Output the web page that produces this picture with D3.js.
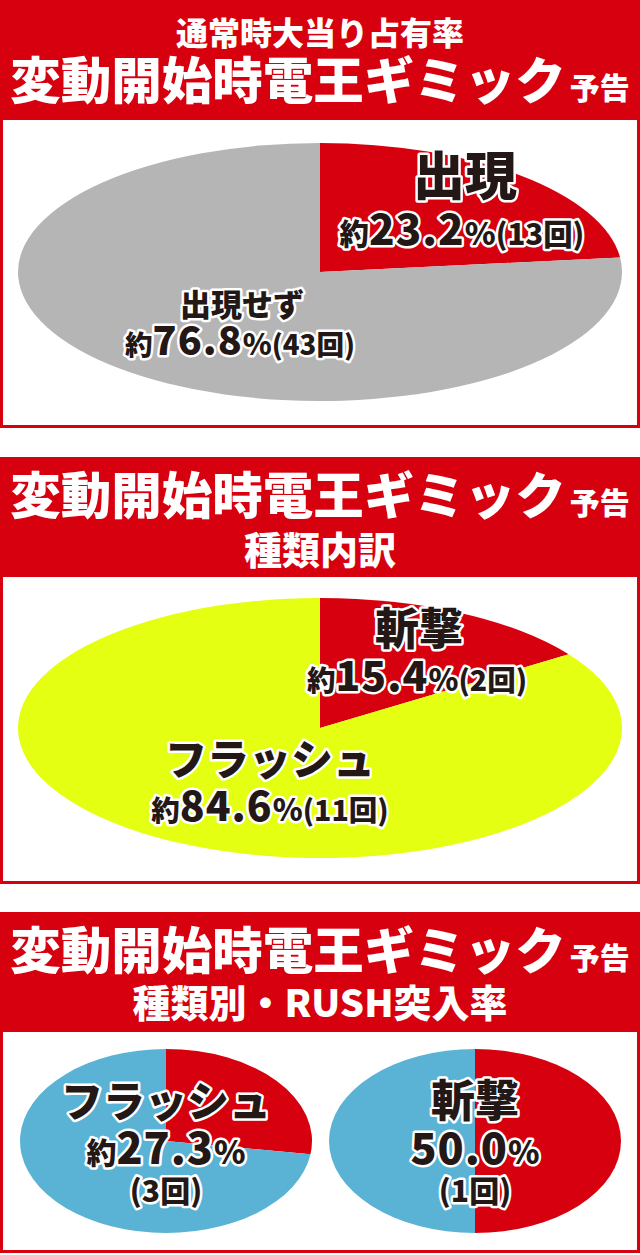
<!DOCTYPE html>
<html>
<head>
<meta charset="utf-8">
<script src="https://cdn.jsdelivr.net/npm/d3@7"></script>
<style>
  html, body { margin: 0; padding: 0; background: #fff; }
  svg { display: block; }
  text { font-family: "Noto Sans CJK JP", "Noto Sans", sans-serif; font-weight: 900; }
  .gv-head { fill: #fff; }
  .gv-label { fill: #231815; stroke: #fff; stroke-width: 5px; stroke-linejoin: round; paint-order: stroke; }
</style>
</head>
<body>
<div class="gv-chart"></div>
<script>
// data
var mainTitle = "変動開始時電王ギミック";
var titleSuffix = "予告";
var subTitles = ["通常時大当り占有率", "種類内訳", "種類別・RUSH突入率"];

// panel 1 : share of the gimmick in normal-time hits
var shareLabels = ["出現", "出現せず"];
var shareValues = [23.2, 76.8];
var shareCounts = [13, 43];

// panel 2 : kind breakdown
var kindLabels = ["斬撃", "フラッシュ"];
var kindValues = [15.4, 84.6];
var kindCounts = [2, 11];

// panel 3 : RUSH rate by kind
var rushLabels = ["フラッシュ", "斬撃"];
var rushValues = [27.3, 50.0];
var rushCounts = [3, 1];

var red = "#d7000f", grey = "#b5b5b6", lime = "#e4ff12", blue = "#5ab3d5";

var W = 640, H = 1255;
var svg = d3.select(".gv-chart").append("svg").attr("width", W).attr("height", H);

var pie = d3.pie().sort(null).value(d => d);

// a circle pie squashed into an ellipse
function drawPie(values, colours, cx, cy, rx, ry) {
    var arc = d3.arc().innerRadius(0).outerRadius(rx);
    var g = svg.append("g").attr("transform", `translate(${cx},${cy}) scale(1,${ry / rx})`);
    g.selectAll("path")
        .data(pie(values))
        .enter()
        .append("path")
        .attr("d", arc)
        .attr("fill", (d, i) => colours[i]);
}

function panel(top, headBottom, bottom) {
    svg.append("rect").attr("x", 0).attr("y", top).attr("width", W).attr("height", bottom - top).attr("fill", red);
    svg.append("rect").attr("x", 3).attr("y", headBottom).attr("width", W - 6).attr("height", bottom - headBottom - 3).attr("fill", "#fff");
}

function titleLine(y) {
    var t = svg.append("text").attr("class", "gv-head").attr("x", W / 2).attr("y", y).attr("text-anchor", "middle");
    t.append("tspan").attr("font-size", 50.5).text(mainTitle);
    t.append("tspan").attr("font-size", 30).attr("dx", 4).text(titleSuffix);
}

function headText(str, y, size) {
    svg.append("text").attr("class", "gv-head").attr("x", W / 2).attr("y", y)
        .attr("text-anchor", "middle").attr("font-size", size).text(str);
}

// parts: [text, size, spacing]
function label(x, y, parts) {
    var t = svg.append("text").attr("class", "gv-label").attr("x", x).attr("y", y).attr("text-anchor", "middle");
    parts.forEach(p => {
        t.append("tspan").attr("font-size", p[1]).attr("letter-spacing", p[2] || 0).text(p[0]);
    })
}

function pctLabel(x, y, v, n, s) {
    label(x, y, [["約", 30 * s], [v.toFixed(1), 43 * s, 1], ["%", 32 * s], ["(" + n + "回)", 30 * s]]);
}

// ---- panel 1
panel(0, 120, 428);
headText(subTitles[0], 45, 32);
titleLine(99);
drawPie(shareValues, [red, grey], 320, 272, 302, 129);
label(465, 195, [[shareLabels[0], 52]]);
pctLabel(462, 245, shareValues[0], shareCounts[0], 0.98);
label(242, 316, [[shareLabels[1], 31]]);
pctLabel(240, 355, shareValues[1], shareCounts[1], 0.92);

// ---- panel 2
panel(457, 577, 884);
titleLine(514);
headText(subTitles[1], 564, 38);
drawPie(kindValues, [red, lime], 320, 728, 302, 130);
label(419, 645, [[kindLabels[0], 44]]);
pctLabel(417, 691, kindValues[0], kindCounts[0], 0.95);
label(270, 775, [[kindLabels[1], 42]]);
pctLabel(270, 821, kindValues[1], kindCounts[1], 0.95);

// ---- panel 3
panel(912, 1032, 1253);
titleLine(969);
headText(subTitles[2], 1017, 38);
var rushX = [166, 475];
rushValues.forEach((v, i) => {
    drawPie([v, 100 - v], [red, blue], rushX[i], 1141, 146, 92);
});
label(rushX[0], 1117, [[rushLabels[0], 42]]);
label(rushX[0], 1164, [["約", 30], [rushValues[0].toFixed(1), 43, 1], ["%", 32]]);
label(rushX[0], 1202, [["(" + rushCounts[0] + "回)", 30]]);
label(rushX[1], 1117, [[rushLabels[1], 44]]);
label(rushX[1], 1164, [[rushValues[1].toFixed(1), 43, 1], ["%", 32]]);
label(rushX[1], 1202, [["(" + rushCounts[1] + "回)", 30]]);
</script>
</body>
</html>
